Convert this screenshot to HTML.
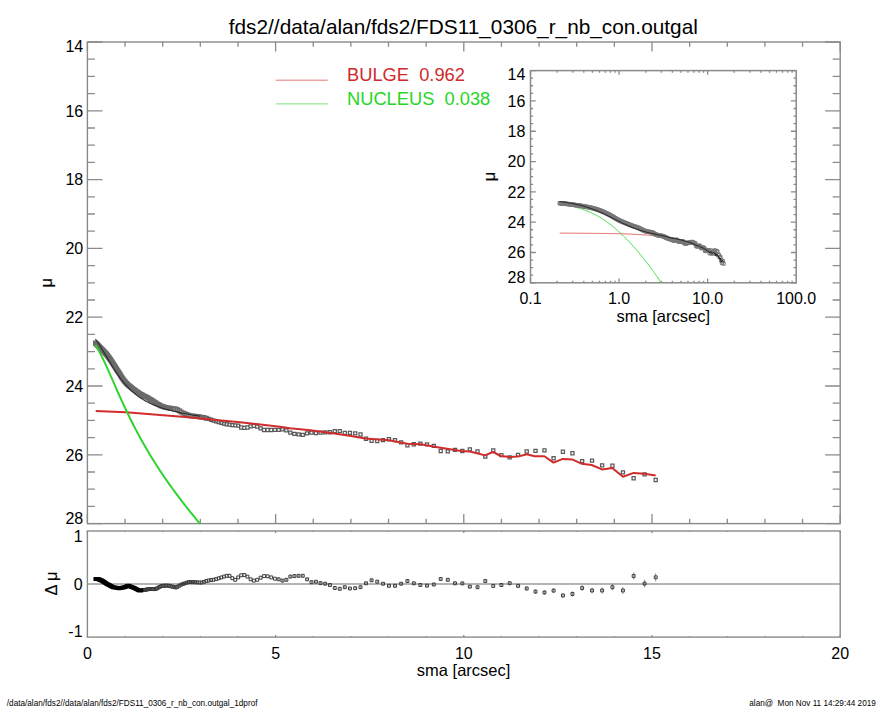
<!DOCTYPE html>
<html><head><meta charset="utf-8"><style>
html,body{margin:0;padding:0;background:#fff;width:885px;height:708px;overflow:hidden}
svg{display:block;font-family:"Liberation Sans",sans-serif}
</style></head><body>
<svg width="885" height="708" viewBox="0 0 885 708">
<rect x="0" y="0" width="885" height="708" fill="#fff"/>
<text x="463.3" y="33.9" text-anchor="middle" font-size="20.8" fill="#000">fds2//data/alan/fds2/FDS11_0306_r_nb_con.outgal</text>
<path d="M87.4 523.6v-9.6M87.4 42v9.6M125.04 523.6v-4.8M125.04 42v4.8M162.68 523.6v-4.8M162.68 42v4.8M200.32 523.6v-4.8M200.32 42v4.8M237.96 523.6v-4.8M237.96 42v4.8M275.6 523.6v-9.6M275.6 42v9.6M313.24 523.6v-4.8M313.24 42v4.8M350.88 523.6v-4.8M350.88 42v4.8M388.52 523.6v-4.8M388.52 42v4.8M426.16 523.6v-4.8M426.16 42v4.8M463.8 523.6v-9.6M463.8 42v9.6M501.44 523.6v-4.8M501.44 42v4.8M539.08 523.6v-4.8M539.08 42v4.8M576.72 523.6v-4.8M576.72 42v4.8M614.36 523.6v-4.8M614.36 42v4.8M652 523.6v-9.6M652 42v9.6M689.64 523.6v-4.8M689.64 42v4.8M727.28 523.6v-4.8M727.28 42v4.8M764.92 523.6v-4.8M764.92 42v4.8M802.56 523.6v-4.8M802.56 42v4.8M840.2 523.6v-9.6M840.2 42v9.6M87.4 42h15.06M840.2 42h-15.06M87.4 59.2h7.53M840.2 59.2h-7.53M87.4 76.4h7.53M840.2 76.4h-7.53M87.4 93.6h7.53M840.2 93.6h-7.53M87.4 110.8h15.06M840.2 110.8h-15.06M87.4 128h7.53M840.2 128h-7.53M87.4 145.2h7.53M840.2 145.2h-7.53M87.4 162.4h7.53M840.2 162.4h-7.53M87.4 179.6h15.06M840.2 179.6h-15.06M87.4 196.8h7.53M840.2 196.8h-7.53M87.4 214h7.53M840.2 214h-7.53M87.4 231.2h7.53M840.2 231.2h-7.53M87.4 248.4h15.06M840.2 248.4h-15.06M87.4 265.6h7.53M840.2 265.6h-7.53M87.4 282.8h7.53M840.2 282.8h-7.53M87.4 300h7.53M840.2 300h-7.53M87.4 317.2h15.06M840.2 317.2h-15.06M87.4 334.4h7.53M840.2 334.4h-7.53M87.4 351.6h7.53M840.2 351.6h-7.53M87.4 368.8h7.53M840.2 368.8h-7.53M87.4 386h15.06M840.2 386h-15.06M87.4 403.2h7.53M840.2 403.2h-7.53M87.4 420.4h7.53M840.2 420.4h-7.53M87.4 437.6h7.53M840.2 437.6h-7.53M87.4 454.8h15.06M840.2 454.8h-15.06M87.4 472h7.53M840.2 472h-7.53M87.4 489.2h7.53M840.2 489.2h-7.53M87.4 506.4h7.53M840.2 506.4h-7.53M87.4 523.6h15.06M840.2 523.6h-15.06" stroke="#8a8a8a" stroke-width="1.3" fill="none"/>
<rect x="87.4" y="42.0" width="752.8" height="481.6" fill="none" stroke="#8a8a8a" stroke-width="1.4"/>
<text x="83.2" y="51.86" text-anchor="end" font-size="16">14</text>
<text x="83.2" y="116.63" text-anchor="end" font-size="16">16</text>
<text x="83.2" y="185.43" text-anchor="end" font-size="16">18</text>
<text x="83.2" y="254.23" text-anchor="end" font-size="16">20</text>
<text x="83.2" y="323.03" text-anchor="end" font-size="16">22</text>
<text x="83.2" y="391.83" text-anchor="end" font-size="16">24</text>
<text x="83.2" y="460.63" text-anchor="end" font-size="16">26</text>
<text x="83.2" y="523.9" text-anchor="end" font-size="16">28</text>
<text transform="translate(52.1 282.8) rotate(-90)" text-anchor="middle" font-size="16.5" stroke="#000" stroke-width="0.15">μ</text>
<path d="M87.4 637.1v-2.1M87.4 531v2.1M125.04 637.1v-1.06M125.04 531v1.06M162.68 637.1v-1.06M162.68 531v1.06M200.32 637.1v-1.06M200.32 531v1.06M237.96 637.1v-1.06M237.96 531v1.06M275.6 637.1v-2.1M275.6 531v2.1M313.24 637.1v-1.06M313.24 531v1.06M350.88 637.1v-1.06M350.88 531v1.06M388.52 637.1v-1.06M388.52 531v1.06M426.16 637.1v-1.06M426.16 531v1.06M463.8 637.1v-2.1M463.8 531v2.1M501.44 637.1v-1.06M501.44 531v1.06M539.08 637.1v-1.06M539.08 531v1.06M576.72 637.1v-1.06M576.72 531v1.06M614.36 637.1v-1.06M614.36 531v1.06M652 637.1v-2.1M652 531v2.1M689.64 637.1v-1.06M689.64 531v1.06M727.28 637.1v-1.06M727.28 531v1.06M764.92 637.1v-1.06M764.92 531v1.06M802.56 637.1v-1.06M802.56 531v1.06M840.2 637.1v-2.1M840.2 531v2.1" stroke="#8a8a8a" stroke-width="1.3" fill="none"/>
<line x1="87.4" y1="584.05" x2="840.2" y2="584.05" stroke="#b4b4b4" stroke-width="2"/>
<rect x="87.4" y="531.0" width="752.8" height="106.1" fill="none" stroke="#8a8a8a" stroke-width="1.4"/>
<text x="82.6" y="541.8" text-anchor="end" font-size="16">1</text>
<text x="82.6" y="590.3" text-anchor="end" font-size="16">0</text>
<text x="82.6" y="636.8" text-anchor="end" font-size="16">-1</text>
<text transform="translate(56.5 583.5) rotate(-90)" text-anchor="middle" font-size="16.5" stroke="#000" stroke-width="0.15">Δ μ</text>
<text x="87.4" y="658.6" text-anchor="middle" font-size="16">0</text>
<text x="275.6" y="658.6" text-anchor="middle" font-size="16">5</text>
<text x="463.8" y="658.6" text-anchor="middle" font-size="16">10</text>
<text x="652" y="658.6" text-anchor="middle" font-size="16">15</text>
<text x="840.2" y="658.6" text-anchor="middle" font-size="16">20</text>
<text x="463.6" y="676.2" text-anchor="middle" font-size="16.5">sma [arcsec]</text>
<line x1="275.7" y1="80.2" x2="327.7" y2="80.2" stroke="#e46a6a" stroke-width="0.9"/>
<line x1="275.7" y1="103.9" x2="327.7" y2="103.9" stroke="#6ade6a" stroke-width="0.9"/>
<text x="347.0" y="80.6" font-size="18.3" fill="#cf2a2a" xml:space="preserve" style="white-space:pre">BULGE  0.962</text>
<text x="347.0" y="104.8" font-size="18.3" fill="#26d626" xml:space="preserve" style="white-space:pre">NUCLEUS  0.038</text>
<path d="M93.6 341.1h3.7v3.7h-3.7zM93.76 341.26h3.7v3.7h-3.7zM93.92 341.42h3.7v3.7h-3.7zM94.09 341.59h3.7v3.7h-3.7zM94.26 341.76h3.7v3.7h-3.7zM94.43 341.94h3.7v3.7h-3.7zM94.61 342.11h3.7v3.7h-3.7zM94.79 342.3h3.7v3.7h-3.7zM94.98 342.48h3.7v3.7h-3.7zM95.16 342.67h3.7v3.7h-3.7zM95.36 342.87h3.7v3.7h-3.7zM95.55 343.07h3.7v3.7h-3.7zM95.75 343.27h3.7v3.7h-3.7zM95.96 343.48h3.7v3.7h-3.7zM96.17 343.69h3.7v3.7h-3.7zM96.38 343.9h3.7v3.7h-3.7zM96.59 344.12h3.7v3.7h-3.7zM96.82 344.35h3.7v3.7h-3.7zM97.04 344.58h3.7v3.7h-3.7zM97.27 344.81h3.7v3.7h-3.7zM97.5 345.05h3.7v3.7h-3.7zM97.74 345.3h3.7v3.7h-3.7zM97.99 345.55h3.7v3.7h-3.7zM98.24 345.81h3.7v3.7h-3.7zM98.49 346.07h3.7v3.7h-3.7zM98.75 346.34h3.7v3.7h-3.7zM99.01 346.61h3.7v3.7h-3.7zM99.28 346.89h3.7v3.7h-3.7zM99.56 347.17h3.7v3.7h-3.7zM99.84 347.45h3.7v3.7h-3.7zM100.12 347.74h3.7v3.7h-3.7zM100.41 348.04h3.7v3.7h-3.7zM100.71 348.34h3.7v3.7h-3.7zM101.01 348.64h3.7v3.7h-3.7zM101.32 348.95h3.7v3.7h-3.7zM101.64 349.27h3.7v3.7h-3.7zM101.96 349.6h3.7v3.7h-3.7zM102.29 349.94h3.7v3.7h-3.7zM102.62 350.29h3.7v3.7h-3.7zM102.97 350.65h3.7v3.7h-3.7zM103.31 351.02h3.7v3.7h-3.7zM103.67 351.41h3.7v3.7h-3.7zM104.03 351.82h3.7v3.7h-3.7zM104.4 352.24h3.7v3.7h-3.7zM104.78 352.68h3.7v3.7h-3.7zM105.16 353.15h3.7v3.7h-3.7zM105.56 353.65h3.7v3.7h-3.7zM105.96 354.17h3.7v3.7h-3.7zM106.36 354.71h3.7v3.7h-3.7zM106.78 355.28h3.7v3.7h-3.7zM107.2 355.87h3.7v3.7h-3.7zM107.64 356.47h3.7v3.7h-3.7zM108.08 357.1h3.7v3.7h-3.7zM108.53 357.75h3.7v3.7h-3.7zM108.99 358.41h3.7v3.7h-3.7zM109.46 359.09h3.7v3.7h-3.7zM109.94 359.79h3.7v3.7h-3.7zM110.42 360.52h3.7v3.7h-3.7zM110.92 361.28h3.7v3.7h-3.7zM111.43 362.06h3.7v3.7h-3.7zM111.95 362.86h3.7v3.7h-3.7zM112.47 363.69h3.7v3.7h-3.7zM113.01 364.54h3.7v3.7h-3.7zM113.56 365.4h3.7v3.7h-3.7zM114.12 366.29h3.7v3.7h-3.7zM114.69 367.18h3.7v3.7h-3.7zM115.28 368.1h3.7v3.7h-3.7zM115.87 369.02h3.7v3.7h-3.7zM116.48 369.96h3.7v3.7h-3.7zM117.1 370.94h3.7v3.7h-3.7zM117.73 371.96h3.7v3.7h-3.7zM118.37 373h3.7v3.7h-3.7zM119.03 374.06h3.7v3.7h-3.7zM119.7 375.13h3.7v3.7h-3.7zM120.38 376.18h3.7v3.7h-3.7zM121.08 377.2h3.7v3.7h-3.7zM121.79 378.18h3.7v3.7h-3.7zM122.51 379.1h3.7v3.7h-3.7zM123.25 379.96h3.7v3.7h-3.7zM124.01 380.79h3.7v3.7h-3.7zM124.77 381.58h3.7v3.7h-3.7zM125.56 382.34h3.7v3.7h-3.7zM126.36 383.08h3.7v3.7h-3.7zM127.18 383.81h3.7v3.7h-3.7zM128.01 384.52h3.7v3.7h-3.7zM128.86 385.22h3.7v3.7h-3.7zM129.72 385.91h3.7v3.7h-3.7zM130.61 386.61h3.7v3.7h-3.7zM131.51 387.3h3.7v3.7h-3.7zM132.43 388h3.7v3.7h-3.7zM133.36 388.7h3.7v3.7h-3.7zM134.32 389.4h3.7v3.7h-3.7zM135.3 390.09h3.7v3.7h-3.7zM136.29 390.77h3.7v3.7h-3.7zM137.31 391.43h3.7v3.7h-3.7zM138.34 392.06h3.7v3.7h-3.7zM139.4 392.67h3.7v3.7h-3.7zM140.47 393.25h3.7v3.7h-3.7zM141.57 393.81h3.7v3.7h-3.7zM142.69 394.36h3.7v3.7h-3.7zM143.84 394.92h3.7v3.7h-3.7zM145 395.51h3.7v3.7h-3.7zM146.19 396.12h3.7v3.7h-3.7zM147.4 396.79h3.7v3.7h-3.7zM148.64 397.54h3.7v3.7h-3.7zM149.9 398.35h3.7v3.7h-3.7zM151.19 399.21h3.7v3.7h-3.7zM152.5 400.1h3.7v3.7h-3.7zM153.84 400.99h3.7v3.7h-3.7zM155.21 401.87h3.7v3.7h-3.7zM156.6 402.7h3.7v3.7h-3.7zM158.02 403.45h3.7v3.7h-3.7zM159.47 404.11h3.7v3.7h-3.7zM160.95 404.73h3.7v3.7h-3.7zM162.46 405.26h3.7v3.7h-3.7zM163.99 405.64h3.7v3.7h-3.7zM165.56 405.93h3.7v3.7h-3.7zM167.16 406.16h3.7v3.7h-3.7zM168.8 406.36h3.7v3.7h-3.7zM170.46 406.58h3.7v3.7h-3.7zM172.16 406.84h3.7v3.7h-3.7zM173.89 407.21h3.7v3.7h-3.7zM175.66 407.82h3.7v3.7h-3.7zM177.46 408.9h3.7v3.7h-3.7zM179.3 410.15h3.7v3.7h-3.7zM181.17 411.22h3.7v3.7h-3.7zM183.09 412.02h3.7v3.7h-3.7zM185.04 412.76h3.7v3.7h-3.7zM187.03 413.38h3.7v3.7h-3.7zM189.06 413.83h3.7v3.7h-3.7zM191.13 414.19h3.7v3.7h-3.7zM193.24 414.47h3.7v3.7h-3.7zM195.39 414.73h3.7v3.7h-3.7zM197.59 414.99h3.7v3.7h-3.7zM199.83 415.31h3.7v3.7h-3.7zM202.11 415.73h3.7v3.7h-3.7zM204.45 416.32h3.7v3.7h-3.7z" stroke="#6a6a6a" stroke-width="1.3" fill="none"/>
<path d="M207.12 417.38h3.1v3.1h-3.1zM209.55 418.21h3.1v3.1h-3.1zM212.02 419.04h3.1v3.1h-3.1zM214.55 419.81h3.1v3.1h-3.1zM217.12 420.59h3.1v3.1h-3.1zM219.75 421.36h3.1v3.1h-3.1zM222.42 422.07h3.1v3.1h-3.1zM225.15 422.65h3.1v3.1h-3.1zM227.94 423.13h3.1v3.1h-3.1zM230.78 423.53h3.1v3.1h-3.1zM233.68 423.77h3.1v3.1h-3.1zM236.64 424.05h3.1v3.1h-3.1zM239.65 425.95h3.1v3.1h-3.1zM242.73 426.25h3.1v3.1h-3.1zM245.87 425.95h3.1v3.1h-3.1zM249.07 424.75h3.1v3.1h-3.1zM252.33 424.35h3.1v3.1h-3.1zM255.66 425.05h3.1v3.1h-3.1zM259.06 426.85h3.1v3.1h-3.1zM262.52 428.45h3.1v3.1h-3.1zM266.06 428.45h3.1v3.1h-3.1zM269.66 428.45h3.1v3.1h-3.1zM273.34 428.35h3.1v3.1h-3.1zM277.09 428.25h3.1v3.1h-3.1zM280.91 427.75h3.1v3.1h-3.1zM284.81 428.75h3.1v3.1h-3.1zM288.79 431.05h3.1v3.1h-3.1zM292.85 432.25h3.1v3.1h-3.1zM296.99 432.85h3.1v3.1h-3.1zM301.21 433.25h3.1v3.1h-3.1zM305.52 431.75h3.1v3.1h-3.1zM309.91 431.05h3.1v3.1h-3.1zM314.39 431.55h3.1v3.1h-3.1zM318.96 431.05h3.1v3.1h-3.1zM323.63 430.85h3.1v3.1h-3.1zM328.38 430.65h3.1v3.1h-3.1zM333.23 429.55h3.1v3.1h-3.1zM338.18 429.55h3.1v3.1h-3.1zM343.23 431.25h3.1v3.1h-3.1zM348.38 431.25h3.1v3.1h-3.1zM353.63 431.85h3.1v3.1h-3.1zM358.98 432.95h3.1v3.1h-3.1zM364.44 437.15h3.1v3.1h-3.1zM370.02 439.35h3.1v3.1h-3.1zM375.7 439.45h3.1v3.1h-3.1zM381.5 438.55h3.1v3.1h-3.1zM387.41 437.65h3.1v3.1h-3.1zM393.44 438.55h3.1v3.1h-3.1zM399.59 440.85h3.1v3.1h-3.1zM405.87 443.65h3.1v3.1h-3.1zM412.27 442.65h3.1v3.1h-3.1zM418.8 442.05h3.1v3.1h-3.1zM425.45 442.75h3.1v3.1h-3.1zM432.25 444.25h3.1v3.1h-3.1zM439.17 449.45h3.1v3.1h-3.1zM446.24 449.75h3.1v3.1h-3.1zM453.45 448.35h3.1v3.1h-3.1zM460.8 449.45h3.1v3.1h-3.1zM468.3 447.85h3.1v3.1h-3.1zM475.95 449.95h3.1v3.1h-3.1zM483.75 455.05h3.1v3.1h-3.1zM491.71 448.75h3.1v3.1h-3.1zM499.83 453.55h3.1v3.1h-3.1zM508.11 455.75h3.1v3.1h-3.1zM516.55 453.35h3.1v3.1h-3.1zM525.16 449.95h3.1v3.1h-3.1zM533.95 449.35h3.1v3.1h-3.1zM542.91 448.85h3.1v3.1h-3.1zM552.05 456.65h3.1v3.1h-3.1zM561.38 450.15h3.1v3.1h-3.1zM570.89 451.65h3.1v3.1h-3.1zM580.59 459.55h3.1v3.1h-3.1zM590.48 459.05h3.1v3.1h-3.1zM600.58 463.75h3.1v3.1h-3.1zM610.87 464.15h3.1v3.1h-3.1zM621.37 470.75h3.1v3.1h-3.1zM632.08 476.65h3.1v3.1h-3.1zM643.01 472.75h3.1v3.1h-3.1zM654.15 478.45h3.1v3.1h-3.1z" stroke="#5a5a5a" stroke-width="1.25" fill="none"/>
<path d="M95.45 339.07 L96.77 340.96 L98.1 342.93 L99.43 344.97 L100.76 347.08 L102.08 349.24 L103.41 351.43 L104.74 353.65 L106.07 355.89 L107.39 358.13 L108.72 360.36 L110.05 362.58 L111.38 364.78 L112.7 366.94 L114.03 369.05 L115.36 371.12 L116.69 373.12 L118.01 375.06 L119.34 376.93 L120.67 378.72 L122 380.43 L123.32 382.07 L124.65 383.64 L125.98 385.14 L127.31 386.6 L128.63 387.99 L129.96 389.31 L131.29 390.58 L132.62 391.79 L133.94 392.94 L135.27 394.04 L136.6 395.09 L137.93 396.09 L139.25 397.04 L140.58 397.95 L141.91 398.81 L143.24 399.63 L144.56 400.42 L145.89 401.17 L147.22 401.88 L148.55 402.56 L149.87 403.22 L151.2 403.84 L152.53 404.43 L153.86 405 L155.18 405.54 L156.51 406.06 L157.84 406.56 L159.17 407.04 L160.49 407.5 L161.82 407.94 L163.15 408.36 L164.48 408.77 L165.8 409.16 L167.13 409.53 L168.46 409.9 L169.79 410.25 L171.11 410.58 L172.44 410.91 L173.77 411.23 L175.1 411.53 L176.42 411.83 L177.75 412.11 L179.08 412.39 L180.41 412.66 L181.73 412.92 L183.06 413.18 L184.39 413.43 L185.72 413.68 L187.04 413.94 L188.37 414.2 L189.7 414.44 L191.03 414.69 L192.35 414.92 L193.68 415.16 L195.01 415.39 L196.34 415.61 L197.66 415.83 L198.99 416.05 L200.32 416.27" stroke="#2a2a2a" stroke-width="1.1" fill="none"/>
<path d="M95.7 410.9 L126 412.2 L185 416.9 L240 422.3 L280 426.7 L290 428.2 L310.3 430.3 L332.7 433.3 L351 435.9 L365.3 438.4 L375 439.2 L389.2 440.3 L400.4 442.5 L407.6 443.8 L420.8 444.3 L436 446.9 L450 449.2 L461.3 450.9 L469.8 451.5 L477.1 453.2 L485 455.4 L493 452 L500.8 456 L509.9 456.9 L517.8 456.6 L526.8 454.3 L534.7 456.2 L544.4 456.2 L553.5 462.6 L562.8 458.9 L572.3 459.4 L581.9 463.8 L591.7 465 L602 469.4 L612.3 467.9 L623 476.7 L633.6 472.9 L644.3 473.8 L655.7 475.5" stroke="#d02c2c" stroke-width="2" fill="none" stroke-linejoin="round"/>
<path d="M95.4 344.9 L97.17 347.88 L98.95 351.06 L100.72 354.43 L102.5 357.97 L104.27 361.64 L106.05 365.44 L107.82 369.34 L109.6 373.31 L111.37 377.33 L113.15 381.39 L114.92 385.46 L116.69 389.52 L118.47 393.55 L120.24 397.52 L122.02 401.42 L123.79 405.26 L125.57 409.03 L127.34 412.74 L129.12 416.38 L130.89 419.96 L132.67 423.48 L134.44 426.94 L136.22 430.34 L137.99 433.67 L139.76 436.95 L141.54 440.17 L143.31 443.34 L145.09 446.44 L146.86 449.5 L148.64 452.51 L150.41 455.46 L152.19 458.36 L153.96 461.22 L155.74 464.04 L157.51 466.8 L159.28 469.53 L161.06 472.22 L162.83 474.86 L164.61 477.47 L166.38 480.04 L168.16 482.57 L169.93 485.07 L171.71 487.54 L173.48 489.98 L175.26 492.39 L177.03 494.78 L178.81 497.13 L180.58 499.46 L182.35 501.77 L184.13 504.06 L185.9 506.32 L187.68 508.57 L189.45 510.8 L191.23 513.02 L193 515.22 L194.78 517.41 L196.55 519.59 L198.33 521.76 L200.1 523.92" stroke="#30d430" stroke-width="2" fill="none"/>
<path d="M278.64 577.85V580.75M282.46 579.15V582.05M286.36 578.35V581.25M290.34 575.15V578.05M294.4 574.65V577.55M298.54 574.35V577.25M302.76 574.35V577.25M307.07 577.85V580.75M311.46 580.75V583.65M315.94 580.25V583.15M320.51 581.65V584.55M325.18 582.25V585.15M329.93 583.55V586.45M334.78 586.55V589.45M339.73 587.35V590.25M344.78 585.75V588.65M349.93 587.05V589.95M355.18 586.75V589.65M360.53 585.75V588.65M365.99 581.85V584.75M371.57 578.85V581.75M377.25 580.25V583.15M383.05 582.25V585.15M388.96 584.35V587.25M394.99 584.35V587.25M401.14 582.25V585.15M407.42 579.55V582.45M413.82 581.85V584.75M420.35 583.55V586.45M427 584.15V587.05M433.8 583.05V585.95M440.72 577.55V580.45M447.79 578.35V581.25M455 581.82V584.78M462.35 581.86V584.94M469.85 585V588.2M477.5 585.53V588.87M485.3 579.26V582.74M493.26 584.08V587.72M501.38 583.1V586.9M509.66 581.22V585.18M518.1 583.73V587.87M526.71 586.33V590.67M535.5 589.33V593.87M544.46 590.12V594.88M553.6 588.1V593.1M562.93 592.88V598.12M572.44 591.25V596.75M582.14 585.22V590.98M592.03 587.47V593.53M602.13 587.31V593.69M612.42 583.85V590.55M622.92 586.98V594.02M633.63 572.29V579.71M644.56 579.69V587.51M655.7 573.19V581.41" stroke="#777" stroke-width="0.8" fill="none"/>
<path d="M140.87 588.74h2.9v2.9h-2.9zM141.97 588.62h2.9v2.9h-2.9zM143.09 588.5h2.9v2.9h-2.9zM144.24 588.3h2.9v2.9h-2.9zM145.4 588.06h2.9v2.9h-2.9zM146.59 587.8h2.9v2.9h-2.9zM147.8 587.55h2.9v2.9h-2.9zM149.04 587.49h2.9v2.9h-2.9zM150.3 587.56h2.9v2.9h-2.9zM151.59 587.63h2.9v2.9h-2.9zM152.9 587.69h2.9v2.9h-2.9zM154.24 587.6h2.9v2.9h-2.9zM155.61 586.87h2.9v2.9h-2.9zM157 586.13h2.9v2.9h-2.9zM158.42 585.38h2.9v2.9h-2.9zM159.87 584.61h2.9v2.9h-2.9zM161.35 584.32h2.9v2.9h-2.9zM162.86 584.27h2.9v2.9h-2.9zM164.39 584.22h2.9v2.9h-2.9zM165.96 584.17h2.9v2.9h-2.9zM167.56 584.38h2.9v2.9h-2.9zM169.2 584.78h2.9v2.9h-2.9zM170.86 585.19h2.9v2.9h-2.9zM172.56 585.61h2.9v2.9h-2.9zM174.29 586.04h2.9v2.9h-2.9zM176.06 585.38h2.9v2.9h-2.9zM177.86 584.31h2.9v2.9h-2.9zM179.7 583.22h2.9v2.9h-2.9zM181.57 582.48h2.9v2.9h-2.9zM183.49 581.85h2.9v2.9h-2.9zM185.44 581.21h2.9v2.9h-2.9zM187.43 580.56h2.9v2.9h-2.9zM189.46 580.61h2.9v2.9h-2.9zM191.53 580.68h2.9v2.9h-2.9zM193.64 580.75h2.9v2.9h-2.9zM195.79 580.88h2.9v2.9h-2.9zM197.99 581.02h2.9v2.9h-2.9zM200.23 581.09h2.9v2.9h-2.9zM202.51 580.38h2.9v2.9h-2.9zM204.85 579.65h2.9v2.9h-2.9zM207.22 579.03h2.9v2.9h-2.9zM209.65 578.66h2.9v2.9h-2.9zM212.12 578.28h2.9v2.9h-2.9zM214.65 577.72h2.9v2.9h-2.9zM217.22 576.86h2.9v2.9h-2.9zM219.85 576h2.9v2.9h-2.9zM222.52 575.15h2.9v2.9h-2.9zM225.25 574.35h2.9v2.9h-2.9zM228.04 574.35h2.9v2.9h-2.9zM230.88 576.75h2.9v2.9h-2.9zM233.78 578.35h2.9v2.9h-2.9zM236.74 575.95h2.9v2.9h-2.9zM239.75 573.85h2.9v2.9h-2.9zM242.83 573.55h2.9v2.9h-2.9zM245.97 575.15h2.9v2.9h-2.9zM249.17 577.85h2.9v2.9h-2.9zM252.43 579.15h2.9v2.9h-2.9zM255.76 578.35h2.9v2.9h-2.9zM259.16 576.25h2.9v2.9h-2.9zM262.62 574.65h2.9v2.9h-2.9zM266.16 574.85h2.9v2.9h-2.9zM269.76 575.95h2.9v2.9h-2.9zM273.44 577.25h2.9v2.9h-2.9zM277.19 577.85h2.9v2.9h-2.9zM281.01 579.15h2.9v2.9h-2.9zM284.91 578.35h2.9v2.9h-2.9zM288.89 575.15h2.9v2.9h-2.9zM292.95 574.65h2.9v2.9h-2.9zM297.09 574.35h2.9v2.9h-2.9zM301.31 574.35h2.9v2.9h-2.9zM305.62 577.85h2.9v2.9h-2.9zM310.01 580.75h2.9v2.9h-2.9zM314.49 580.25h2.9v2.9h-2.9zM319.06 581.65h2.9v2.9h-2.9zM323.73 582.25h2.9v2.9h-2.9zM328.48 583.55h2.9v2.9h-2.9zM333.33 586.55h2.9v2.9h-2.9zM338.28 587.35h2.9v2.9h-2.9zM343.33 585.75h2.9v2.9h-2.9zM348.48 587.05h2.9v2.9h-2.9zM353.73 586.75h2.9v2.9h-2.9zM359.08 585.75h2.9v2.9h-2.9zM364.54 581.85h2.9v2.9h-2.9zM370.12 578.85h2.9v2.9h-2.9zM375.8 580.25h2.9v2.9h-2.9zM381.6 582.25h2.9v2.9h-2.9zM387.51 584.35h2.9v2.9h-2.9zM393.54 584.35h2.9v2.9h-2.9zM399.69 582.25h2.9v2.9h-2.9zM405.97 579.55h2.9v2.9h-2.9zM412.37 581.85h2.9v2.9h-2.9zM418.9 583.55h2.9v2.9h-2.9zM425.55 584.15h2.9v2.9h-2.9zM432.35 583.05h2.9v2.9h-2.9zM439.27 577.55h2.9v2.9h-2.9zM446.34 578.35h2.9v2.9h-2.9zM453.55 581.85h2.9v2.9h-2.9zM460.9 581.95h2.9v2.9h-2.9zM468.4 585.15h2.9v2.9h-2.9zM476.05 585.75h2.9v2.9h-2.9zM483.85 579.55h2.9v2.9h-2.9zM491.81 584.45h2.9v2.9h-2.9zM499.93 583.55h2.9v2.9h-2.9zM508.21 581.75h2.9v2.9h-2.9zM516.65 584.35h2.9v2.9h-2.9zM525.26 587.05h2.9v2.9h-2.9zM534.05 590.15h2.9v2.9h-2.9zM543.01 591.05h2.9v2.9h-2.9zM552.15 589.15h2.9v2.9h-2.9zM561.48 594.05h2.9v2.9h-2.9zM570.99 592.55h2.9v2.9h-2.9zM580.69 586.65h2.9v2.9h-2.9zM590.58 589.05h2.9v2.9h-2.9zM600.68 589.05h2.9v2.9h-2.9zM610.97 585.75h2.9v2.9h-2.9zM621.47 589.05h2.9v2.9h-2.9zM632.18 574.55h2.9v2.9h-2.9zM643.11 582.15h2.9v2.9h-2.9zM654.25 575.85h2.9v2.9h-2.9z" stroke="#3a3a3a" stroke-width="1.0" fill="none"/>
<path d="M94 577.44h2.9v2.9h-2.9zM94.16 577.45h2.9v2.9h-2.9zM94.32 577.46h2.9v2.9h-2.9zM94.49 577.47h2.9v2.9h-2.9zM94.66 577.49h2.9v2.9h-2.9zM94.83 577.5h2.9v2.9h-2.9zM95.01 577.51h2.9v2.9h-2.9zM95.19 577.53h2.9v2.9h-2.9zM95.38 577.54h2.9v2.9h-2.9zM95.56 577.55h2.9v2.9h-2.9zM95.76 577.57h2.9v2.9h-2.9zM95.95 577.58h2.9v2.9h-2.9zM96.15 577.6h2.9v2.9h-2.9zM96.36 577.61h2.9v2.9h-2.9zM96.57 577.63h2.9v2.9h-2.9zM96.78 577.64h2.9v2.9h-2.9zM96.99 577.71h2.9v2.9h-2.9zM97.22 577.81h2.9v2.9h-2.9zM97.44 577.91h2.9v2.9h-2.9zM97.67 578.01h2.9v2.9h-2.9zM97.9 578.11h2.9v2.9h-2.9zM98.14 578.21h2.9v2.9h-2.9zM98.39 578.32h2.9v2.9h-2.9zM98.64 578.43h2.9v2.9h-2.9zM98.89 578.54h2.9v2.9h-2.9zM99.15 578.65h2.9v2.9h-2.9zM99.41 578.77h2.9v2.9h-2.9zM99.68 578.88h2.9v2.9h-2.9zM99.96 579h2.9v2.9h-2.9zM100.24 579.13h2.9v2.9h-2.9zM100.52 579.25h2.9v2.9h-2.9zM100.81 579.39h2.9v2.9h-2.9zM101.11 579.58h2.9v2.9h-2.9zM101.41 579.78h2.9v2.9h-2.9zM101.72 579.98h2.9v2.9h-2.9zM102.04 580.18h2.9v2.9h-2.9zM102.36 580.39h2.9v2.9h-2.9zM102.69 580.6h2.9v2.9h-2.9zM103.02 580.81h2.9v2.9h-2.9zM103.37 581.03h2.9v2.9h-2.9zM103.71 581.26h2.9v2.9h-2.9zM104.07 581.48h2.9v2.9h-2.9zM104.43 581.72h2.9v2.9h-2.9zM104.8 581.95h2.9v2.9h-2.9zM105.18 582.2h2.9v2.9h-2.9zM105.56 582.44h2.9v2.9h-2.9zM105.96 582.7h2.9v2.9h-2.9zM106.36 582.95h2.9v2.9h-2.9zM106.76 583.16h2.9v2.9h-2.9zM107.18 583.37h2.9v2.9h-2.9zM107.6 583.59h2.9v2.9h-2.9zM108.04 583.81h2.9v2.9h-2.9zM108.48 584.03h2.9v2.9h-2.9zM108.93 584.26h2.9v2.9h-2.9zM109.39 584.5h2.9v2.9h-2.9zM109.86 584.74h2.9v2.9h-2.9zM110.34 584.98h2.9v2.9h-2.9zM110.82 585.23h2.9v2.9h-2.9zM111.32 585.48h2.9v2.9h-2.9zM111.83 585.74h2.9v2.9h-2.9zM112.35 585.84h2.9v2.9h-2.9zM112.87 585.93h2.9v2.9h-2.9zM113.41 586.03h2.9v2.9h-2.9zM113.96 586.13h2.9v2.9h-2.9zM114.52 586.23h2.9v2.9h-2.9zM115.09 586.33h2.9v2.9h-2.9zM115.68 586.43h2.9v2.9h-2.9zM116.27 586.54h2.9v2.9h-2.9zM116.88 586.65h2.9v2.9h-2.9zM117.5 586.74h2.9v2.9h-2.9zM118.13 586.65h2.9v2.9h-2.9zM118.77 586.55h2.9v2.9h-2.9zM119.43 586.46h2.9v2.9h-2.9zM120.1 586.36h2.9v2.9h-2.9zM120.78 586.25h2.9v2.9h-2.9zM121.48 586.15h2.9v2.9h-2.9zM122.19 586.04h2.9v2.9h-2.9zM122.91 585.76h2.9v2.9h-2.9zM123.65 585.48h2.9v2.9h-2.9zM124.41 585.19h2.9v2.9h-2.9zM125.17 584.89h2.9v2.9h-2.9zM125.96 584.59h2.9v2.9h-2.9zM126.76 584.28h2.9v2.9h-2.9zM127.58 584.53h2.9v2.9h-2.9zM128.41 584.86h2.9v2.9h-2.9zM129.26 585.2h2.9v2.9h-2.9zM130.12 585.54h2.9v2.9h-2.9zM131.01 585.88h2.9v2.9h-2.9zM131.91 586.24h2.9v2.9h-2.9zM132.83 586.63h2.9v2.9h-2.9zM133.76 587.07h2.9v2.9h-2.9zM134.72 587.52h2.9v2.9h-2.9zM135.7 587.98h2.9v2.9h-2.9zM136.69 588.45h2.9v2.9h-2.9zM137.71 588.93h2.9v2.9h-2.9zM138.74 588.97h2.9v2.9h-2.9zM139.8 588.85h2.9v2.9h-2.9z" stroke="#000" stroke-width="1.1" fill="none"/>
<rect x="530.5" y="70.6" width="265.7" height="212.2" fill="#fff" stroke="none"/>
<path d="M530.5 282.8v-4.24M530.5 70.6v4.24M557.16 282.8v-2.12M557.16 70.6v2.12M572.76 282.8v-2.12M572.76 70.6v2.12M583.82 282.8v-2.12M583.82 70.6v2.12M592.41 282.8v-2.12M592.41 70.6v2.12M599.42 282.8v-2.12M599.42 70.6v2.12M605.35 282.8v-2.12M605.35 70.6v2.12M610.48 282.8v-2.12M610.48 70.6v2.12M615.01 282.8v-2.12M615.01 70.6v2.12M619.07 282.8v-4.24M619.07 70.6v4.24M645.73 282.8v-2.12M645.73 70.6v2.12M661.32 282.8v-2.12M661.32 70.6v2.12M672.39 282.8v-2.12M672.39 70.6v2.12M680.97 282.8v-2.12M680.97 70.6v2.12M687.98 282.8v-2.12M687.98 70.6v2.12M693.91 282.8v-2.12M693.91 70.6v2.12M699.05 282.8v-2.12M699.05 70.6v2.12M703.58 282.8v-2.12M703.58 70.6v2.12M707.63 282.8v-4.24M707.63 70.6v4.24M734.29 282.8v-2.12M734.29 70.6v2.12M749.89 282.8v-2.12M749.89 70.6v2.12M760.96 282.8v-2.12M760.96 70.6v2.12M769.54 282.8v-2.12M769.54 70.6v2.12M776.55 282.8v-2.12M776.55 70.6v2.12M782.48 282.8v-2.12M782.48 70.6v2.12M787.62 282.8v-2.12M787.62 70.6v2.12M792.15 282.8v-2.12M792.15 70.6v2.12M530.5 70.6h5.31M796.2 70.6h-5.31M530.5 78.18h2.66M796.2 78.18h-2.66M530.5 85.76h2.66M796.2 85.76h-2.66M530.5 93.34h2.66M796.2 93.34h-2.66M530.5 100.91h5.31M796.2 100.91h-5.31M530.5 108.49h2.66M796.2 108.49h-2.66M530.5 116.07h2.66M796.2 116.07h-2.66M530.5 123.65h2.66M796.2 123.65h-2.66M530.5 131.23h5.31M796.2 131.23h-5.31M530.5 138.81h2.66M796.2 138.81h-2.66M530.5 146.39h2.66M796.2 146.39h-2.66M530.5 153.96h2.66M796.2 153.96h-2.66M530.5 161.54h5.31M796.2 161.54h-5.31M530.5 169.12h2.66M796.2 169.12h-2.66M530.5 176.7h2.66M796.2 176.7h-2.66M530.5 184.28h2.66M796.2 184.28h-2.66M530.5 191.86h5.31M796.2 191.86h-5.31M530.5 199.44h2.66M796.2 199.44h-2.66M530.5 207.01h2.66M796.2 207.01h-2.66M530.5 214.59h2.66M796.2 214.59h-2.66M530.5 222.17h5.31M796.2 222.17h-5.31M530.5 229.75h2.66M796.2 229.75h-2.66M530.5 237.33h2.66M796.2 237.33h-2.66M530.5 244.91h2.66M796.2 244.91h-2.66M530.5 252.49h5.31M796.2 252.49h-5.31M530.5 260.06h2.66M796.2 260.06h-2.66M530.5 267.64h2.66M796.2 267.64h-2.66M530.5 275.22h2.66M796.2 275.22h-2.66M530.5 282.8h5.31M796.2 282.8h-5.31" stroke="#8a8a8a" stroke-width="1.3" fill="none"/>
<rect x="530.5" y="70.6" width="265.7" height="212.2" fill="none" stroke="#8a8a8a" stroke-width="1.5"/>
<text x="525.4" y="80.26" text-anchor="end" font-size="16">14</text>
<text x="525.4" y="106.74" text-anchor="end" font-size="16">16</text>
<text x="525.4" y="137.06" text-anchor="end" font-size="16">18</text>
<text x="525.4" y="167.37" text-anchor="end" font-size="16">20</text>
<text x="525.4" y="197.69" text-anchor="end" font-size="16">22</text>
<text x="525.4" y="228" text-anchor="end" font-size="16">24</text>
<text x="525.4" y="258.32" text-anchor="end" font-size="16">26</text>
<text x="525.4" y="282.5" text-anchor="end" font-size="16">28</text>
<text x="530.5" y="304.1" text-anchor="middle" font-size="16">0.1</text>
<text x="619.07" y="304.1" text-anchor="middle" font-size="16">1.0</text>
<text x="707.63" y="304.1" text-anchor="middle" font-size="16">10.0</text>
<text x="796.2" y="304.1" text-anchor="middle" font-size="16">100.0</text>
<text x="663.3" y="322.2" text-anchor="middle" font-size="16.5">sma [arcsec]</text>
<text transform="translate(495.0 176.6) rotate(-90)" text-anchor="middle" font-size="16.5" stroke="#000" stroke-width="0.15">μ</text>
<path d="M559.72 233.14 L560.48 233.14 L561.24 233.14 L562 233.15 L562.76 233.15 L563.53 233.15 L564.29 233.16 L565.05 233.16 L565.81 233.16 L566.57 233.17 L567.33 233.17 L568.1 233.17 L568.86 233.18 L569.62 233.18 L570.38 233.19 L571.14 233.19 L571.9 233.19 L572.67 233.2 L573.43 233.2 L574.19 233.21 L574.95 233.21 L575.71 233.22 L576.47 233.22 L577.24 233.23 L578 233.23 L578.76 233.24 L579.52 233.24 L580.28 233.25 L581.04 233.25 L581.81 233.26 L582.57 233.26 L583.33 233.27 L584.09 233.27 L584.85 233.28 L585.61 233.28 L586.38 233.29 L587.14 233.3 L587.9 233.3 L588.66 233.31 L589.42 233.32 L590.18 233.32 L590.95 233.33 L591.71 233.34 L592.47 233.34 L593.23 233.35 L593.99 233.36 L594.76 233.36 L595.52 233.37 L596.28 233.38 L597.04 233.39 L597.8 233.4 L598.56 233.4 L599.33 233.41 L600.09 233.42 L600.85 233.43 L601.61 233.44 L602.37 233.45 L603.13 233.46 L603.9 233.47 L604.66 233.48 L605.42 233.48 L606.18 233.49 L606.94 233.5 L607.7 233.52 L608.47 233.53 L609.23 233.54 L609.99 233.55 L610.75 233.56 L611.51 233.57 L612.27 233.58 L613.04 233.59 L613.8 233.61 L614.56 233.62 L615.32 233.63 L616.08 233.64 L616.84 233.66 L617.61 233.67 L618.37 233.68 L619.13 233.7 L619.89 233.71 L620.65 233.74 L621.41 233.76 L622.18 233.79 L622.94 233.82 L623.7 233.85 L624.46 233.88 L625.22 233.91 L625.98 233.94 L626.75 233.97 L627.51 234.01 L628.27 234.04 L629.03 234.07 L629.79 234.11 L630.55 234.14 L631.32 234.18 L632.08 234.21 L632.84 234.25 L633.6 234.29 L634.36 234.33 L635.12 234.37 L635.89 234.41 L636.65 234.45 L637.41 234.49 L638.17 234.53 L638.93 234.58 L639.69 234.62 L640.46 234.66 L641.22 234.71 L641.98 234.76 L642.74 234.81 L643.5 234.85 L644.26 234.9 L645.03 234.96 L645.79 235.01 L646.55 235.06 L647.31 235.11 L648.07 235.17 L648.83 235.23 L649.6 235.28 L650.36 235.34 L651.12 235.4 L651.88 235.46 L652.64 235.52 L653.41 235.59 L654.17 235.65 L654.93 235.72 L655.69 235.78 L656.45 235.87 L657.21 235.95 L657.98 236.04 L658.74 236.13 L659.5 236.22 L660.26 236.32 L661.02 236.41 L661.78 236.51 L662.55 236.61 L663.31 236.71 L664.07 236.81 L664.83 236.92 L665.59 237.02 L666.35 237.13 L667.12 237.24 L667.88 237.36 L668.64 237.47 L669.4 237.59 L670.16 237.71 L670.92 237.83 L671.69 237.96 L672.45 238.09 L673.21 238.22 L673.97 238.37 L674.73 238.53 L675.49 238.68 L676.26 238.84 L677.02 239 L677.78 239.16 L678.54 239.33 L679.3 239.5 L680.06 239.68 L680.83 239.86 L681.59 240.04 L682.35 240.27 L683.11 240.52 L683.87 240.78 L684.63 240.97 L685.4 241.15 L686.16 241.35 L686.92 241.54 L687.68 241.76 L688.44 242.02 L689.2 242.29 L689.97 242.57 L690.73 242.85 L691.49 243.14 L692.25 243.45 L693.01 243.77 L693.77 244.09 L694.54 244.48 L695.3 244.89 L696.06 245.28 L696.82 245.49 L697.58 245.69 L698.34 245.89 L699.11 246.09 L699.87 246.6 L700.63 247.13 L701.39 247.62 L702.15 247.74 L702.91 247.85 L703.68 248.33 L704.44 248.84 L705.2 249.35 L705.96 249.86 L706.72 250.35 L707.48 250.8 L708.25 251.04 L709.01 251.83 L709.77 252.69 L710.53 251.31 L711.29 253.04 L712.06 253.4 L712.82 253.24 L713.58 252.28 L714.34 253.1 L715.1 253.12 L715.86 255.9 L716.63 254.3 L717.39 254.54 L718.15 256.46 L718.91 257.04 L719.67 258.91 L720.43 258.3 L721.2 262.11 L721.96 260.46 L722.72 260.87 L723.48 261.61" stroke="#e06060" stroke-width="1" fill="none"/>
<path d="M559.72 204.09 L560.48 204.21 L561.24 204.33 L562 204.45 L562.76 204.57 L563.53 204.7 L564.29 204.83 L565.05 204.97 L565.81 205.11 L566.57 205.25 L567.33 205.4 L568.1 205.55 L568.86 205.7 L569.62 205.86 L570.38 206.03 L571.14 206.2 L571.9 206.37 L572.67 206.55 L573.43 206.73 L574.19 206.92 L574.95 207.11 L575.71 207.31 L576.47 207.51 L577.24 207.72 L578 207.94 L578.76 208.16 L579.52 208.38 L580.28 208.62 L581.04 208.85 L581.81 209.1 L582.57 209.35 L583.33 209.61 L584.09 209.88 L584.85 210.15 L585.61 210.43 L586.38 210.72 L587.14 211.01 L587.9 211.32 L588.66 211.63 L589.42 211.95 L590.18 212.27 L590.95 212.61 L591.71 212.96 L592.47 213.31 L593.23 213.67 L593.99 214.04 L594.76 214.42 L595.52 214.81 L596.28 215.21 L597.04 215.62 L597.8 216.04 L598.56 216.47 L599.33 216.91 L600.09 217.36 L600.85 217.82 L601.61 218.29 L602.37 218.77 L603.13 219.26 L603.9 219.76 L604.66 220.28 L605.42 220.8 L606.18 221.33 L606.94 221.88 L607.7 222.43 L608.47 223 L609.23 223.57 L609.99 224.16 L610.75 224.75 L611.51 225.36 L612.27 225.97 L613.04 226.59 L613.8 227.22 L614.56 227.86 L615.32 228.51 L616.08 229.17 L616.84 229.84 L617.61 230.51 L618.37 231.19 L619.13 231.89 L619.89 232.59 L620.65 233.3 L621.41 234.01 L622.18 234.74 L622.94 235.48 L623.7 236.22 L624.46 236.97 L625.22 237.74 L625.98 238.51 L626.75 239.28 L627.51 240.07 L628.27 240.87 L629.03 241.67 L629.79 242.48 L630.55 243.3 L631.32 244.13 L632.08 244.96 L632.84 245.81 L633.6 246.66 L634.36 247.52 L635.12 248.39 L635.89 249.26 L636.65 250.14 L637.41 251.03 L638.17 251.93 L638.93 252.83 L639.69 253.74 L640.46 254.66 L641.22 255.59 L641.98 256.52 L642.74 257.46 L643.5 258.41 L644.26 259.37 L645.03 260.33 L645.79 261.3 L646.55 262.28 L647.31 263.26 L648.07 264.26 L648.83 265.26 L649.6 266.26 L650.36 267.28 L651.12 268.3 L651.88 269.34 L652.64 270.38 L653.41 271.43 L654.17 272.49 L654.93 273.56 L655.69 274.64 L656.45 275.74 L657.21 276.84 L657.98 277.96 L658.74 279.09 L659.5 280.24 L660.26 281.4 L661.02 282.58 L661.58 282.8" stroke="#40dd40" stroke-width="1" fill="none"/>
<path d="M558.07 201.55h3.3v3.3h-3.3zM558.83 201.62h3.3v3.3h-3.3zM559.59 201.69h3.3v3.3h-3.3zM560.35 201.77h3.3v3.3h-3.3zM561.11 201.84h3.3v3.3h-3.3zM561.88 201.92h3.3v3.3h-3.3zM562.64 202h3.3v3.3h-3.3zM563.4 202.08h3.3v3.3h-3.3zM564.16 202.16h3.3v3.3h-3.3zM564.92 202.25h3.3v3.3h-3.3zM565.68 202.33h3.3v3.3h-3.3zM566.45 202.42h3.3v3.3h-3.3zM567.21 202.51h3.3v3.3h-3.3zM567.97 202.6h3.3v3.3h-3.3zM568.73 202.69h3.3v3.3h-3.3zM569.49 202.79h3.3v3.3h-3.3zM570.25 202.89h3.3v3.3h-3.3zM571.02 202.98h3.3v3.3h-3.3zM571.78 203.09h3.3v3.3h-3.3zM572.54 203.19h3.3v3.3h-3.3zM573.3 203.3h3.3v3.3h-3.3zM574.06 203.4h3.3v3.3h-3.3zM574.82 203.51h3.3v3.3h-3.3zM575.59 203.63h3.3v3.3h-3.3zM576.35 203.74h3.3v3.3h-3.3zM577.11 203.86h3.3v3.3h-3.3zM577.87 203.98h3.3v3.3h-3.3zM578.63 204.1h3.3v3.3h-3.3zM579.39 204.23h3.3v3.3h-3.3zM580.16 204.35h3.3v3.3h-3.3zM580.92 204.48h3.3v3.3h-3.3zM581.68 204.61h3.3v3.3h-3.3zM582.44 204.74h3.3v3.3h-3.3zM583.2 204.88h3.3v3.3h-3.3zM583.96 205.01h3.3v3.3h-3.3zM584.73 205.15h3.3v3.3h-3.3zM585.49 205.3h3.3v3.3h-3.3zM586.25 205.45h3.3v3.3h-3.3zM587.01 205.6h3.3v3.3h-3.3zM587.77 205.76h3.3v3.3h-3.3zM588.53 205.92h3.3v3.3h-3.3zM589.3 206.1h3.3v3.3h-3.3zM590.06 206.27h3.3v3.3h-3.3zM590.82 206.46h3.3v3.3h-3.3zM591.58 206.66h3.3v3.3h-3.3zM592.34 206.86h3.3v3.3h-3.3zM593.11 207.08h3.3v3.3h-3.3zM593.87 207.31h3.3v3.3h-3.3zM594.63 207.55h3.3v3.3h-3.3zM595.39 207.8h3.3v3.3h-3.3zM596.15 208.06h3.3v3.3h-3.3zM596.91 208.33h3.3v3.3h-3.3zM597.68 208.6h3.3v3.3h-3.3zM598.44 208.89h3.3v3.3h-3.3zM599.2 209.18h3.3v3.3h-3.3zM599.96 209.48h3.3v3.3h-3.3zM600.72 209.79h3.3v3.3h-3.3zM601.48 210.11h3.3v3.3h-3.3zM602.25 210.45h3.3v3.3h-3.3zM603.01 210.79h3.3v3.3h-3.3zM603.77 211.14h3.3v3.3h-3.3zM604.53 211.51h3.3v3.3h-3.3zM605.29 211.88h3.3v3.3h-3.3zM606.05 212.26h3.3v3.3h-3.3zM606.82 212.65h3.3v3.3h-3.3zM607.58 213.05h3.3v3.3h-3.3zM608.34 213.45h3.3v3.3h-3.3zM609.1 213.86h3.3v3.3h-3.3zM609.86 214.27h3.3v3.3h-3.3zM610.62 214.7h3.3v3.3h-3.3zM611.39 215.15h3.3v3.3h-3.3zM612.15 215.61h3.3v3.3h-3.3zM612.91 216.08h3.3v3.3h-3.3zM613.67 216.55h3.3v3.3h-3.3zM614.43 217.01h3.3v3.3h-3.3zM615.19 217.46h3.3v3.3h-3.3zM615.96 217.89h3.3v3.3h-3.3zM616.72 218.3h3.3v3.3h-3.3zM617.48 218.68h3.3v3.3h-3.3zM618.24 219.04h3.3v3.3h-3.3zM619 219.39h3.3v3.3h-3.3zM619.76 219.72h3.3v3.3h-3.3zM620.53 220.05h3.3v3.3h-3.3zM621.29 220.37h3.3v3.3h-3.3zM622.05 220.68h3.3v3.3h-3.3zM622.81 220.99h3.3v3.3h-3.3zM623.57 221.3h3.3v3.3h-3.3zM624.33 221.6h3.3v3.3h-3.3zM625.1 221.91h3.3v3.3h-3.3zM625.86 222.22h3.3v3.3h-3.3zM626.62 222.53h3.3v3.3h-3.3zM627.38 222.83h3.3v3.3h-3.3zM628.14 223.14h3.3v3.3h-3.3zM628.9 223.44h3.3v3.3h-3.3zM629.67 223.73h3.3v3.3h-3.3zM630.43 224.01h3.3v3.3h-3.3zM631.19 224.28h3.3v3.3h-3.3zM631.95 224.53h3.3v3.3h-3.3zM632.71 224.78h3.3v3.3h-3.3zM633.47 225.02h3.3v3.3h-3.3zM634.24 225.27h3.3v3.3h-3.3zM635 225.53h3.3v3.3h-3.3zM635.76 225.8h3.3v3.3h-3.3zM636.52 226.09h3.3v3.3h-3.3zM637.28 226.42h3.3v3.3h-3.3zM638.04 226.78h3.3v3.3h-3.3zM638.81 227.16h3.3v3.3h-3.3zM639.57 227.55h3.3v3.3h-3.3zM640.33 227.94h3.3v3.3h-3.3zM641.09 228.33h3.3v3.3h-3.3zM641.85 228.69h3.3v3.3h-3.3zM642.61 229.02h3.3v3.3h-3.3zM643.38 229.32h3.3v3.3h-3.3zM644.14 229.59h3.3v3.3h-3.3zM644.9 229.82h3.3v3.3h-3.3zM645.66 229.99h3.3v3.3h-3.3zM646.42 230.12h3.3v3.3h-3.3zM647.18 230.22h3.3v3.3h-3.3zM647.95 230.31h3.3v3.3h-3.3zM648.71 230.4h3.3v3.3h-3.3zM649.47 230.52h3.3v3.3h-3.3zM650.23 230.68h3.3v3.3h-3.3zM650.99 230.95h3.3v3.3h-3.3zM651.76 231.43h3.3v3.3h-3.3zM652.52 231.98h3.3v3.3h-3.3zM653.28 232.45h3.3v3.3h-3.3zM654.04 232.8h3.3v3.3h-3.3zM654.8 233.13h3.3v3.3h-3.3zM655.56 233.4h3.3v3.3h-3.3zM656.33 233.6h3.3v3.3h-3.3zM657.09 233.76h3.3v3.3h-3.3zM657.85 233.88h3.3v3.3h-3.3zM658.61 233.99h3.3v3.3h-3.3zM659.37 234.11h3.3v3.3h-3.3zM660.13 234.25h3.3v3.3h-3.3zM660.9 234.43h3.3v3.3h-3.3zM661.66 234.7h3.3v3.3h-3.3zM662.42 235.03h3.3v3.3h-3.3zM663.18 235.4h3.3v3.3h-3.3zM663.94 235.76h3.3v3.3h-3.3zM664.7 236.1h3.3v3.3h-3.3zM665.47 236.44h3.3v3.3h-3.3zM666.23 236.79h3.3v3.3h-3.3zM666.99 237.1h3.3v3.3h-3.3zM667.75 237.35h3.3v3.3h-3.3zM668.51 237.57h3.3v3.3h-3.3zM669.27 237.74h3.3v3.3h-3.3zM670.04 237.85h3.3v3.3h-3.3zM670.8 237.97h3.3v3.3h-3.3zM671.56 238.81h3.3v3.3h-3.3zM672.32 238.94h3.3v3.3h-3.3zM673.08 238.81h3.3v3.3h-3.3zM673.84 238.28h3.3v3.3h-3.3zM674.61 238.1h3.3v3.3h-3.3zM675.37 238.41h3.3v3.3h-3.3zM676.13 239.2h3.3v3.3h-3.3zM676.89 239.91h3.3v3.3h-3.3zM677.65 239.91h3.3v3.3h-3.3zM678.41 239.91h3.3v3.3h-3.3zM679.18 239.86h3.3v3.3h-3.3zM679.94 239.82h3.3v3.3h-3.3zM680.7 239.6h3.3v3.3h-3.3zM681.46 240.04h3.3v3.3h-3.3zM682.22 241.05h3.3v3.3h-3.3zM682.98 241.58h3.3v3.3h-3.3zM683.75 241.85h3.3v3.3h-3.3zM684.51 242.02h3.3v3.3h-3.3zM685.27 241.36h3.3v3.3h-3.3zM686.03 241.05h3.3v3.3h-3.3zM686.79 241.27h3.3v3.3h-3.3zM687.55 241.05h3.3v3.3h-3.3zM688.32 240.97h3.3v3.3h-3.3zM689.08 240.88h3.3v3.3h-3.3zM689.84 240.39h3.3v3.3h-3.3zM690.6 240.39h3.3v3.3h-3.3zM691.36 241.14h3.3v3.3h-3.3zM692.12 241.14h3.3v3.3h-3.3zM692.89 241.41h3.3v3.3h-3.3zM693.65 241.89h3.3v3.3h-3.3zM694.41 243.74h3.3v3.3h-3.3zM695.17 244.71h3.3v3.3h-3.3zM695.93 244.76h3.3v3.3h-3.3zM696.69 244.36h3.3v3.3h-3.3zM697.46 243.96h3.3v3.3h-3.3zM698.22 244.36h3.3v3.3h-3.3zM698.98 245.37h3.3v3.3h-3.3zM699.74 246.61h3.3v3.3h-3.3zM700.5 246.17h3.3v3.3h-3.3zM701.26 245.9h3.3v3.3h-3.3zM702.03 246.21h3.3v3.3h-3.3zM702.79 246.87h3.3v3.3h-3.3zM703.55 249.16h3.3v3.3h-3.3zM704.31 249.29h3.3v3.3h-3.3zM705.07 248.68h3.3v3.3h-3.3zM705.83 249.16h3.3v3.3h-3.3zM706.6 248.46h3.3v3.3h-3.3zM707.36 249.38h3.3v3.3h-3.3zM708.12 251.63h3.3v3.3h-3.3zM708.88 248.85h3.3v3.3h-3.3zM709.64 250.97h3.3v3.3h-3.3zM710.41 251.94h3.3v3.3h-3.3zM711.17 250.88h3.3v3.3h-3.3zM711.93 249.38h3.3v3.3h-3.3zM712.69 249.12h3.3v3.3h-3.3zM713.45 248.9h3.3v3.3h-3.3zM714.21 252.33h3.3v3.3h-3.3zM714.98 249.47h3.3v3.3h-3.3zM715.74 250.13h3.3v3.3h-3.3zM716.5 253.61h3.3v3.3h-3.3zM717.26 253.39h3.3v3.3h-3.3zM718.02 255.46h3.3v3.3h-3.3zM718.78 255.64h3.3v3.3h-3.3zM719.55 258.55h3.3v3.3h-3.3zM720.31 261.15h3.3v3.3h-3.3zM721.07 259.43h3.3v3.3h-3.3zM721.83 261.94h3.3v3.3h-3.3z" stroke="#777" stroke-width="1" fill="none"/>
<path d="M559.72 201.49 L560.48 201.59 L561.24 201.69 L562 201.8 L562.76 201.9 L563.53 202.01 L564.29 202.13 L565.05 202.24 L565.81 202.36 L566.57 202.48 L567.33 202.61 L568.1 202.73 L568.86 202.86 L569.62 203 L570.38 203.14 L571.14 203.28 L571.9 203.42 L572.67 203.57 L573.43 203.73 L574.19 203.88 L574.95 204.04 L575.71 204.21 L576.47 204.38 L577.24 204.55 L578 204.73 L578.76 204.91 L579.52 205.1 L580.28 205.29 L581.04 205.49 L581.81 205.69 L582.57 205.89 L583.33 206.1 L584.09 206.32 L584.85 206.54 L585.61 206.77 L586.38 207 L587.14 207.23 L587.9 207.48 L588.66 207.72 L589.42 207.98 L590.18 208.23 L590.95 208.5 L591.71 208.77 L592.47 209.04 L593.23 209.32 L593.99 209.61 L594.76 209.9 L595.52 210.2 L596.28 210.5 L597.04 210.81 L597.8 211.12 L598.56 211.44 L599.33 211.77 L600.09 212.1 L600.85 212.43 L601.61 212.77 L602.37 213.12 L603.13 213.47 L603.9 213.82 L604.66 214.18 L605.42 214.54 L606.18 214.91 L606.94 215.28 L607.7 215.65 L608.47 216.03 L609.23 216.4 L609.99 216.78 L610.75 217.17 L611.51 217.55 L612.27 217.93 L613.04 218.32 L613.8 218.7 L614.56 219.08 L615.32 219.47 L616.08 219.85 L616.84 220.23 L617.61 220.61 L618.37 220.98 L619.13 221.36 L619.89 221.73 L620.65 222.11 L621.41 222.48 L622.18 222.85 L622.94 223.22 L623.7 223.59 L624.46 223.95 L625.22 224.31 L625.98 224.66 L626.75 225.01 L627.51 225.35 L628.27 225.69 L629.03 226.03 L629.79 226.36 L630.55 226.69 L631.32 227.01 L632.08 227.32 L632.84 227.63 L633.6 227.93 L634.36 228.23 L635.12 228.52 L635.89 228.8 L636.65 229.08 L637.41 229.36 L638.17 229.62 L638.93 229.89 L639.69 230.14 L640.46 230.39 L641.22 230.63 L641.98 230.87 L642.74 231.1 L643.5 231.33 L644.26 231.55 L645.03 231.76 L645.79 231.97 L646.55 232.18 L647.31 232.38 L648.07 232.57 L648.83 232.77 L649.6 232.95 L650.36 233.13 L651.12 233.31 L651.88 233.48 L652.64 233.65 L653.41 233.82 L654.17 233.98 L654.93 234.14 L655.69 234.3 L656.45 234.47 L657.21 234.64 L657.98 234.8 L658.74 234.96 L659.5 235.13 L660.26 235.29 L661.02 235.44 L661.78 235.6 L662.55 235.76 L663.31 235.92 L664.07 236.07 L664.83 236.23 L665.59 236.38 L666.35 236.54 L667.12 236.69 L667.88 237.36 L668.64 237.47 L669.4 237.59 L670.16 237.71 L670.92 237.83 L671.69 237.96 L672.45 238.09 L673.21 238.22 L673.97 238.37 L674.73 238.53 L675.49 238.68 L676.26 238.84 L677.02 239 L677.78 239.16 L678.54 239.33 L679.3 239.5 L680.06 239.68 L680.83 239.86 L681.59 240.04 L682.35 240.27 L683.11 240.52 L683.87 240.78 L684.63 240.97 L685.4 241.15 L686.16 241.35 L686.92 241.54 L687.68 241.76 L688.44 242.02 L689.2 242.29 L689.97 242.57 L690.73 242.85 L691.49 243.14 L692.25 243.45 L693.01 243.77 L693.77 244.09 L694.54 244.48 L695.3 244.89 L696.06 245.28 L696.82 245.49 L697.58 245.69 L698.34 245.89 L699.11 246.09 L699.87 246.6 L700.63 247.13 L701.39 247.62 L702.15 247.74 L702.91 247.85 L703.68 248.33 L704.44 248.84 L705.2 249.35 L705.96 249.86 L706.72 250.35 L707.48 250.8 L708.25 251.04 L709.01 251.83 L709.77 252.69 L710.53 251.31 L711.29 253.04 L712.06 253.4 L712.82 253.24 L713.58 252.28 L714.34 253.1 L715.1 253.12 L715.86 255.9 L716.63 254.3 L717.39 254.54 L718.15 256.46 L718.91 257.04 L719.67 258.91 L720.43 258.3 L721.2 262.11 L721.96 260.46 L722.72 260.87 L723.48 261.61" stroke="#1a1a1a" stroke-width="1" fill="none"/>
<text x="6.8" y="706.2" font-size="8.2">/data/alan/fds2//data/alan/fds2/FDS11_0306_r_nb_con.outgal_1dprof</text>
<text x="875.8" y="706.1" text-anchor="end" font-size="8.2" xml:space="preserve" style="white-space:pre">alan@  Mon Nov 11 14:29:44 2019</text>
</svg>
</body></html>
